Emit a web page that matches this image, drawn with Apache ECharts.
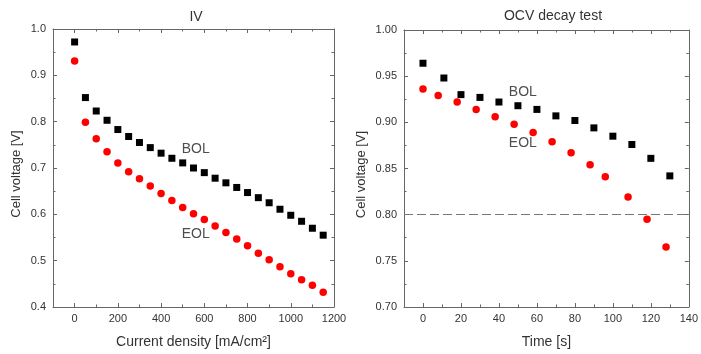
<!DOCTYPE html>
<html>
<head>
<meta charset="utf-8">
<script src="https://cdn.jsdelivr.net/npm/echarts@6/dist/echarts.min.js"></script>
<style>
  html, body { margin: 0; padding: 0; background: #fff; }
  #chart { width: 701px; height: 354px; }
</style>
</head>
<body>
<div id="chart"></div>
<script>
// IV curve: current density [mA/cm2] vs cell voltage
const ivCurrent = [0, 50, 100, 150, 200, 250, 300, 350, 400, 450, 500, 550,
  600, 650, 700, 750, 800, 850, 900, 950, 1000, 1050, 1100, 1150];
const ivBol = [0.972, 0.852, 0.823, 0.803, 0.783, 0.768, 0.755, 0.744, 0.732, 0.721, 0.711, 0.700,
  0.690, 0.678, 0.668, 0.658, 0.647, 0.636, 0.625, 0.611, 0.598, 0.585, 0.570, 0.555];
const ivEol = [0.931, 0.799, 0.763, 0.735, 0.711, 0.692, 0.677, 0.661, 0.645, 0.630, 0.615, 0.601,
  0.589, 0.575, 0.561, 0.547, 0.532, 0.516, 0.502, 0.487, 0.472, 0.459, 0.447, 0.432];

// OCV decay test: time [s] vs cell voltage
const ocvTimeBol = [0, 11, 20, 30, 40, 50, 60, 70, 80, 90, 100, 110, 120, 130];
const ocvBol = [0.964, 0.948, 0.930, 0.927, 0.922, 0.918, 0.914, 0.907, 0.902, 0.894, 0.885, 0.876, 0.861, 0.842];
const ocvTimeEol = [0, 8, 18, 28, 38, 48, 58, 68, 78, 88, 96, 108, 118, 128];
const ocvEol = [0.936, 0.929, 0.922, 0.914, 0.906, 0.898, 0.889, 0.879, 0.867, 0.854, 0.841, 0.819, 0.795, 0.765];
const ocvLimit = 0.80;

// axis ranges and tick steps
const ivX = { min: -100, max: 1200, major: 200 };
const ivY = { min: 0.4, max: 1.0, major: 0.1 };
const ocvX = { min: -10, max: 140, major: 20 };
const ocvY = { min: 0.70, max: 1.00, major: 0.05 };

// curve labels (data coordinates)
const ivLabels = [[560, 0.740, 'BOL'], [560, 0.558, 'EOL']];
const ocvLabels = [[52.6, 0.933, 'BOL'], [52.6, 0.877, 'EOL']];

const font = "'Liberation Sans', Arial, sans-serif";
const axisGray = '#666';
const textColor = '#333';

const zip = (xs, ys) => xs.map((x, i) => [x, ys[i]]);
const nameStyle = { color: textColor, fontSize: 14, fontFamily: font };
const yNameStyle = Object.assign({}, nameStyle, { fontSize: 13, padding: [0, 12, 0, 0] });
const tickLabel = { color: textColor, fontSize: 11, fontFamily: font };
const lineOn = { show: true, onZero: false, lineStyle: { color: axisGray, width: 1 } };
const minor = { show: true, splitNumber: 2, length: 2.5, lineStyle: { color: axisGray } };

function axis(grid, side, range, interval, opts) {
  return Object.assign({
    type: 'value', gridIndex: grid, position: side, min: range.min, max: range.max, interval: interval,
    splitLine: { show: false },
    axisLine: lineOn,
    axisTick: { show: true, inside: true, length: 4, lineStyle: { color: axisGray } },
    minorTick: { show: false },
    axisLabel: { show: false }
  }, opts);
}

// x axes start half a step before the first labelled value:
// labels sit on an axis stepping by half, ticks on an axis stepping by the full step
// whose ticks fall on the odd half-steps (short) and whose minor ticks fall on the labels (long)
function xAxesFor(grid, range, name) {
  const half = range.major / 2;
  const oddTicks = {
    axisTick: { show: true, inside: true, length: 2.5, lineStyle: { color: axisGray } },
    minorTick: { show: true, splitNumber: 2, length: 4, lineStyle: { color: axisGray } }
  };
  return [
    axis(grid, 'bottom', range, half, {
      axisTick: { show: false },
      axisLabel: Object.assign({ show: true, margin: 6,
        formatter: v => (Math.round(v / half) % 2 === 0 ? String(v) : '') }, tickLabel),
      name: name, nameLocation: 'middle', nameGap: 28, nameTextStyle: nameStyle
    }),
    axis(grid, 'bottom', range, range.major, Object.assign({ axisLine: { show: false, onZero: false } }, oddTicks)),
    axis(grid, 'top', range, range.major, oddTicks)
  ];
}

function yAxesFor(grid, range, digits, gap) {
  return [
    axis(grid, 'left', range, range.major, {
      minorTick: minor,
      axisLabel: Object.assign({ show: true, margin: 7, formatter: v => v.toFixed(digits) }, tickLabel),
      name: 'Cell voltage [V]', nameLocation: 'middle', nameGap: gap, nameTextStyle: yNameStyle
    }),
    axis(grid, 'right', range, range.major, { minorTick: minor })
  ];
}

const xAxes = xAxesFor(0, ivX, 'Current density [mA/cm²]').concat(xAxesFor(1, ocvX, 'Time [s]'));
const yAxes = yAxesFor(0, ivY, 1, 30).concat(yAxesFor(1, ocvY, 2, 36));

function labelSeries(xi, yi, data) {
  return {
    type: 'scatter', xAxisIndex: xi, yAxisIndex: yi, data: data, symbolSize: 0, silent: true,
    label: { show: true, position: 'inside', formatter: p => p.data[2], color: '#222', fontSize: 14, fontFamily: font }
  };
}

const chart = echarts.init(document.getElementById('chart'), null, { renderer: 'canvas' });
chart.setOption({
  animation: false,
  backgroundColor: '#fff',
  title: [
    { text: 'IV', left: 196, top: 10, textAlign: 'center', padding: 0,
      textStyle: { color: textColor, fontSize: 14, fontWeight: 'normal', fontFamily: font } },
    { text: 'OCV decay test', left: 553, top: 9, textAlign: 'center', padding: 0,
      textStyle: { color: textColor, fontSize: 14, fontWeight: 'normal', fontFamily: font } }
  ],
  grid: [
    { left: 53, top: 29, width: 281, height: 281 },
    { left: 404, top: 30, width: 288, height: 281 }
  ],
  xAxis: xAxes,
  yAxis: yAxes,
  series: [
    { name: 'IV BOL', type: 'scatter', xAxisIndex: 0, yAxisIndex: 0, data: zip(ivCurrent, ivBol),
      symbol: 'rect', symbolSize: 7, itemStyle: { color: '#000', opacity: 1 } },
    { name: 'IV EOL', type: 'scatter', xAxisIndex: 0, yAxisIndex: 0, data: zip(ivCurrent, ivEol),
      symbol: 'circle', symbolSize: 7.5, itemStyle: { color: '#ff0000', opacity: 1 } },
    labelSeries(0, 0, ivLabels),
    { name: 'OCV BOL', type: 'scatter', xAxisIndex: 3, yAxisIndex: 2, data: zip(ocvTimeBol, ocvBol),
      symbol: 'rect', symbolSize: 7, itemStyle: { color: '#000', opacity: 1 } },
    { name: 'OCV EOL', type: 'scatter', xAxisIndex: 3, yAxisIndex: 2, data: zip(ocvTimeEol, ocvEol),
      symbol: 'circle', symbolSize: 7.5, itemStyle: { color: '#ff0000', opacity: 1 },
      markLine: {
        silent: true, symbol: 'none', label: { show: false },
        lineStyle: { color: '#777', width: 1, type: [9, 4] },
        data: [{ yAxis: ocvLimit }]
      } },
    labelSeries(3, 2, ocvLabels)
  ]
});
</script>
</body>
</html>
